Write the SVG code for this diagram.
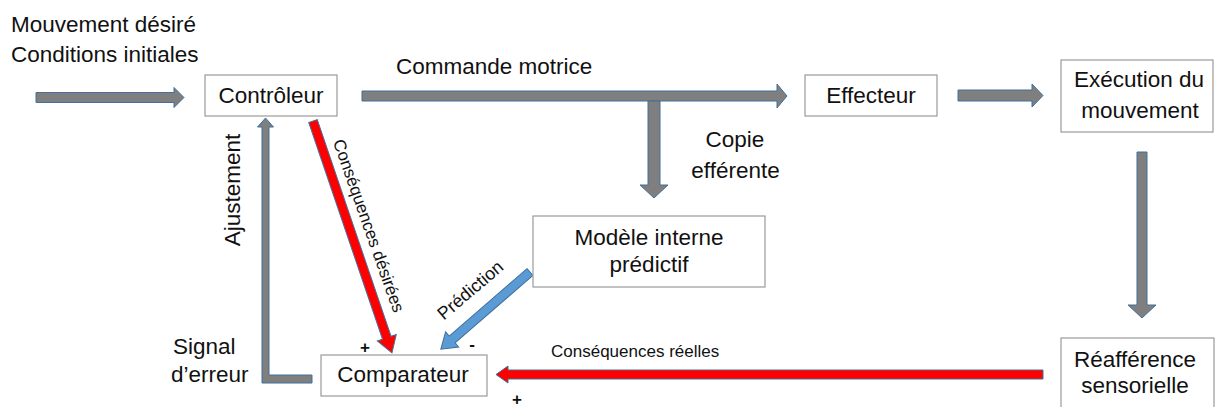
<svg xmlns="http://www.w3.org/2000/svg" width="1215" height="407" viewBox="0 0 1215 407">
<style>
text{font-family:"Liberation Sans",Arial,sans-serif;fill:#111}
.big{font-size:22.5px}
.sm{font-size:17px}
.sign{font-size:17px;font-weight:bold}
.mid{text-anchor:middle}
.box{fill:#fff;stroke:#9a9a9a;stroke-width:1.2}
.ga{fill:#7f7f7f;stroke:#41719c;stroke-width:1}
.ra{fill:#ff0000;stroke:#41719c;stroke-width:1}
.ba{fill:#5b9bd5;stroke:#41719c;stroke-width:1}
</style>
<rect width="1215" height="407" fill="#fff"/>
<g id="inputs">
<text class="big" x="11" y="32">Mouvement désiré</text>
<text class="big" x="11" y="62">Conditions initiales</text>
</g>
<g id="connectors">
<polygon class="ga" points="36,92.5 174,92.5 174,87.5 184,97.5 174,107.5 174,102.5 36,102.5"/>
<polygon class="ga" points="362,91 777,91 777,84 787,96 777,108 777,101 362,101"/>
<polygon class="ga" points="648,101 660,101 660,185 668,185 654,198 640,185 648,185"/>
<polygon class="ga" points="958,90 1032,90 1032,84 1043,95.5 1032,107 1032,101 958,101"/>
<polygon class="ga" points="1137,152 1147,152 1147,305 1156,305 1142,318 1128,305 1137,305"/>
<polygon class="ra" points="1043,370 508,370 508,366 496,374.5 508,383 508,379 1043,379"/>
<polygon class="ga" points="312,375 269,375 269,127 273.5,127 265.5,118 257.5,127 262,127 262,383 312,383"/>
<polygon class="ra" transform="translate(313,121) rotate(71.2)" points="0,-4.5 229,-4.5 229,-10 245,0 229,10 229,4.5 0,4.5"/>
<polygon class="ba" transform="translate(530,272) rotate(139.1)" points="0,-4.5 103,-4.5 103,-10 118,0 103,10 103,4.5 0,4.5"/>
<text class="big" x="396" y="74">Commande motrice</text>
<text class="big mid" x="735" y="147">Copie</text>
<text class="big mid" x="735.5" y="178">efférente</text>
<text class="big mid" transform="translate(232,190) rotate(-90)" x="0" y="8">Ajustement</text>
<text class="big" x="173" y="354">Signal</text>
<text class="big" x="171" y="382">d’erreur</text>
<text class="sm mid" transform="translate(368,226) rotate(70.5)" x="0" y="5">Conséquences désirées</text>
<text class="mid" style="font-size:18px" transform="translate(471,291) rotate(-40.5)" x="0" y="5">Prédiction</text>
<text class="sm" x="551" y="357">Conséquences réelles</text>
<text class="sign mid" x="365" y="353">+</text>
<text class="sign mid" x="472" y="350">-</text>
<text class="sign mid" x="517" y="405">+</text>
</g>
<g id="controleur">
<rect class="box" x="205" y="75" width="132" height="41"/>
<text class="big mid" x="271" y="103">Contrôleur</text>
</g>
<g id="effecteur">
<rect class="box" x="805" y="75" width="132" height="41"/>
<text class="big mid" x="871" y="103">Effecteur</text>
</g>
<g id="execution">
<rect class="box" x="1061" y="60" width="152" height="72"/>
<text class="big mid" x="1139" y="87">Exécution du</text>
<text class="big mid" x="1140" y="118">mouvement</text>
</g>
<g id="modele">
<rect class="box" x="533" y="216" width="232" height="71"/>
<text class="big mid" x="649" y="245">Modèle interne</text>
<text class="big mid" x="649" y="272">prédictif</text>
</g>
<g id="comparateur">
<rect class="box" x="321" y="355" width="166" height="41"/>
<text class="big mid" x="403" y="382">Comparateur</text>
</g>
<g id="reafference">
<rect class="box" x="1061" y="338" width="153" height="80"/>
<text class="big mid" x="1135" y="367">Réafférence</text>
<text class="big mid" x="1135" y="393">sensorielle</text>
</g>
</svg>
